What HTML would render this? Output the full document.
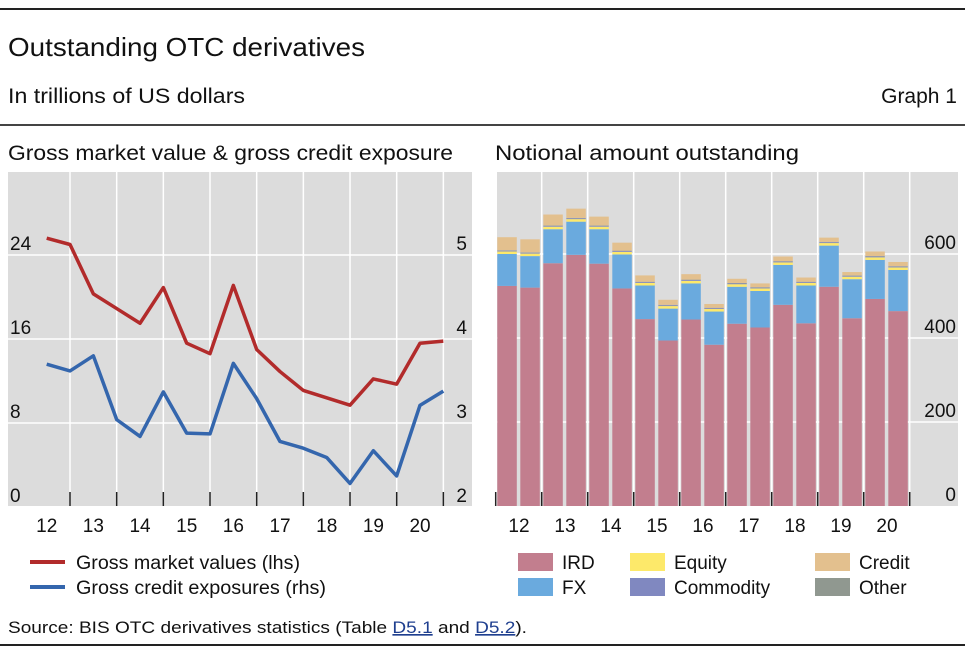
<!DOCTYPE html>
<html><head><meta charset="utf-8"><style>
html,body{margin:0;padding:0;background:#fff;}
body{width:965px;height:654px;overflow:hidden;font-family:"Liberation Sans",sans-serif;}
svg text{font-family:"Liberation Sans",sans-serif;fill:#111;}
</style></head><body>
<svg id="chart" width="965" height="654" xmlns="http://www.w3.org/2000/svg">
<rect x="0" y="8" width="965" height="2" fill="#222"/>
<text x="8" y="56" font-size="26" textLength="357" lengthAdjust="spacingAndGlyphs">Outstanding OTC derivatives</text>
<text x="8" y="103" font-size="21" textLength="237" lengthAdjust="spacingAndGlyphs">In trillions of US dollars</text>
<text x="957" y="103" font-size="21" text-anchor="end">Graph 1</text>
<rect x="0" y="124" width="965" height="2" fill="#444"/>
<text x="8" y="160" font-size="21" textLength="445" lengthAdjust="spacingAndGlyphs">Gross market value &amp; gross credit exposure</text>
<text x="495" y="160" font-size="21" textLength="304" lengthAdjust="spacingAndGlyphs">Notional amount outstanding</text>
<rect x="8" y="172" width="464" height="334" fill="#dcdcdc"/>
<rect x="497" y="172" width="461" height="334" fill="#dcdcdc"/>
<g id="left"></g><g id="right"></g>
<line x1="30" y1="562" x2="65" y2="562" stroke="#b22b2b" stroke-width="4"/>
<text x="76" y="569" font-size="19" textLength="224" lengthAdjust="spacingAndGlyphs">Gross market values (lhs)</text>
<line x1="30" y1="587" x2="65" y2="587" stroke="#3466ad" stroke-width="4"/>
<text x="76" y="594" font-size="19" textLength="250" lengthAdjust="spacingAndGlyphs">Gross credit exposures (rhs)</text>
<g id="legend2"></g>
<text x="8" y="633" font-size="16.5" textLength="519" lengthAdjust="spacingAndGlyphs">Source: BIS OTC derivatives statistics (Table <tspan fill="#1f3f8f" text-decoration="underline">D5.1</tspan> and <tspan fill="#1f3f8f" text-decoration="underline">D5.2</tspan>).</text>
<rect x="0" y="644" width="965" height="2" fill="#222"/>
</svg>
<script>
const years = ["12","13","14","15","16","17","18","19","20"];
const leftTicks = [0,8,16,24];
const rightTicks = [2,3,4,5];
const grossMarket = [25.6,25.0,20.3,18.9,17.5,20.9,15.6,14.6,21.1,15.0,12.9,11.1,10.4,9.7,12.2,11.7,15.6,15.8];
const grossCredit = [3.70,3.62,3.80,3.04,2.84,3.37,2.88,2.87,3.71,3.29,2.78,2.70,2.59,2.28,2.67,2.37,3.21,3.38];
const notionalTicks = [0,200,400,600];
const ird = [524,520,578,598,577,518,445,394,444,384,434,425,479,435,522,447,493,464];
const fx = [76,75,81,79,82,81,80,76,86,79,88,87,95,90,98,93,93,98];
const equity = [6,6,6,6,6,6,6,6,6,6,6,6,6,6,6,6,6,6];
const commodity = [2,2,2,2,2,2,2,2,2,2,2,2,2,2,2,2,2,2];
const other = [1,1,1,1,1,1,1,1,1,1,1,1,1,1,1,1,1,1];
const credit = [31,31,26,22,21,19,15,12,13,9,10,9,11,10,10,8,11,10];

const NS="http://www.w3.org/2000/svg";
function mk(tag,attrs,parent){const e=document.createElementNS(NS,tag);for(const k in attrs)e.setAttribute(k,attrs[k]);parent.appendChild(e);return e;}

// LEFT
const L=document.getElementById('left');
const yL=v=>507-(v/32)*336;
const yR=v=>507-(v-2)*84;
const xL=i=>46.7+23.33*i;
for(let k=1;k<=9;k++){const x=23.33+46.67*k; const g=mk('line',{x1:x,y1:172,x2:x,y2:506,stroke:'#fff','stroke-width':1.5},L);


const t=mk('line',{x1:x,y1:492,x2:x,y2:506,stroke:'#222','stroke-width':1.5},L);

}
leftTicks.forEach((v,i)=>{const y=yL(v);
if(v>0){const g=mk('line',{x1:8,y1:y,x2:472,y2:y,stroke:'#fff','stroke-width':1.5},L);

}
const t=mk('text',{x:10,y:y-5,'font-size':19},L);t.textContent=v;


const r=mk('text',{x:467,y:y-5,'font-size':19,'text-anchor':'end'},L);r.textContent=rightTicks[i];

});
years.forEach((yr,k)=>{const t=mk('text',{x:46.7+46.67*k,y:532,'font-size':19,'text-anchor':'middle'},L);t.textContent=yr;

});
const p1=mk('polyline',{points:grossMarket.map((v,i)=>xL(i)+','+yL(v)).join(' '),fill:'none',stroke:'#b22b2b','stroke-width':3.5,'stroke-linejoin':'round'},L);


const p2=mk('polyline',{points:grossCredit.map((v,i)=>xL(i)+','+yR(v)).join(' '),fill:'none',stroke:'#3466ad','stroke-width':3.5,'stroke-linejoin':'round'},L);



// RIGHT
const R=document.getElementById('right');
const yN=v=>506-v*0.42;
const xN=i=>497.3+23.0*i;
for(let k=1;k<=9;k++){const x=495.7+46*k;const g=mk('line',{x1:x,y1:172,x2:x,y2:506,stroke:'#fff','stroke-width':1.5},R);

}
notionalTicks.forEach(v=>{const y=yN(v);
if(v>0){const g=mk('line',{x1:497,y1:y,x2:958,y2:y,stroke:'#fff','stroke-width':1.5},R);

}
const t=mk('text',{x:956,y:y-5,'font-size':19,'text-anchor':'end'},R);t.textContent=v;

});
const series=[[ird,'#c27e8e','bar-ird'],[fx,'#6aaade','bar-fx'],[equity,'#fde96a','bar-equity'],[commodity,'#8088c0','bar-commodity'],[other,'#909890','bar-other'],[credit,'#e3c08e','bar-credit']];
ird.forEach((_,i)=>{let base=0;series.forEach(([arr,c,n])=>{const v=arr[i];const r=mk('rect',{x:xN(i),y:yN(base+v),width:19.5,height:v*0.42,fill:c},R);


base+=v;});});
for(let k=0;k<=9;k++){const x=495.7+46*k;const t=mk('line',{x1:x,y1:492,x2:x,y2:506,stroke:'#222','stroke-width':1.5},R);

}
years.forEach((yr,k)=>{const t=mk('text',{x:519+46*k,y:532,'font-size':19,'text-anchor':'middle'},R);t.textContent=yr;

});

// legend 2
const G=document.getElementById('legend2');
const leg=[['IRD','#c27e8e',518,553],['Equity','#fde96a',630,553],['Credit','#e3c08e',815,553],['FX','#6aaade',518,578],['Commodity','#8088c0',630,578],['Other','#909890',815,578]];
leg.forEach(([t,c,x,y])=>{const r=mk('rect',{x:x,y:y,width:35,height:18,fill:c},G);


const tx=mk('text',{x:x+44,y:y+16,'font-size':19},G);tx.textContent=t;

});
</script>
</body></html>
